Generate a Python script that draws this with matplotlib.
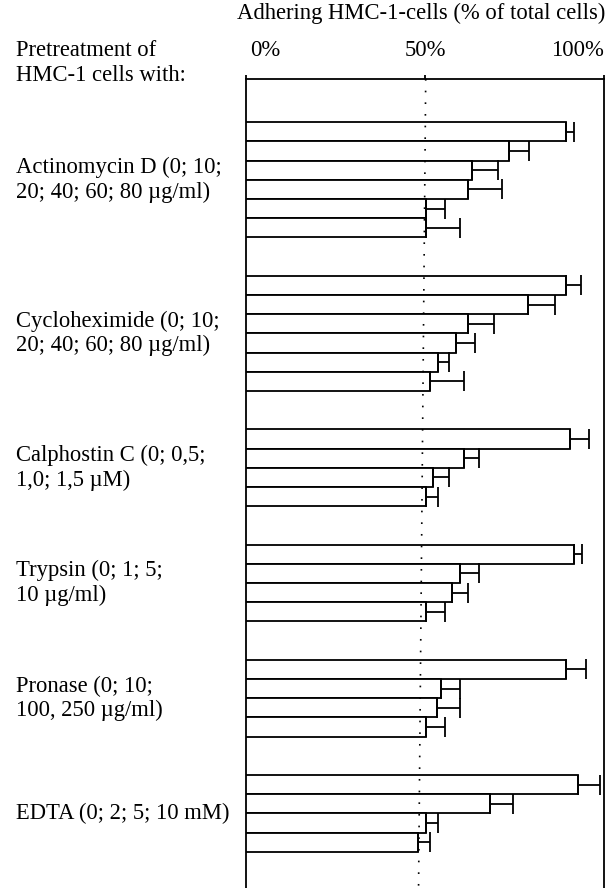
import matplotlib
matplotlib.use("Agg")
import matplotlib.pyplot as plt
import matplotlib.transforms as mtransforms
import numpy as np

plt.rcParams['font.family'] = ['Liberation Serif', 'DejaVu Serif']

groups = [
    "Actinomycin D (0; 10;\n20; 40; 60; 80 µg/ml)",
    "Cycloheximide (0; 10;\n20; 40; 60; 80 µg/ml)",
    "Calphostin C (0; 0,5;\n1,0; 1,5 µM)",
    "Trypsin (0; 1; 5;\n10 µg/ml)",
    "Pronase (0; 10;\n100, 250 µg/ml)",
    "EDTA (0; 2; 5; 10 mM)",
]
means = [
    [89.5, 73.6, 63.0, 61.9, 50.2, 50.2],
    [89.4, 78.8, 62.0, 58.7, 53.5, 51.3],
    [90.6, 60.8, 52.3, 50.2],
    [91.5, 59.8, 57.5, 50.2],
    [89.4, 54.4, 53.4, 50.2],
    [92.7, 68.2, 50.2, 48.1],
]
upper = [
    [91.7, 79.0, 70.5, 71.5, 55.6, 59.9],
    [93.7, 86.3, 69.3, 64.1, 56.7, 60.8],
    [95.9, 65.1, 56.8, 53.5],
    [93.8, 65.2, 62.0, 55.5],
    [94.9, 59.8, 59.8, 55.6],
    [99.0, 74.7, 53.6, 51.5],
]
xticks = [0, 50, 100]
xticklabels = ["0%", "50%", "100%"]
title = "Adhering HMC-1-cells (% of total cells)"
header = "Pretreatment of\nHMC-1 cells with:"
ref_x = [50.2, 48.2]

W, H, DPI = 616, 888, 100
fig = plt.figure(figsize=(W / DPI, H / DPI), dpi=DPI)
ax_left, ax_right, ax_top = 246, 604, 79
ax = fig.add_axes([ax_left / W, 0, (ax_right - ax_left) / W, (H - ax_top) / H])

unit = 19.2
ymax = (H - ax_top) / unit
top_gap = 2.25
gap = 2.0

fs = 16.3
pos = top_gap
for g, (lab, m, u) in enumerate(zip(groups, means, upper)):
    n = len(m)
    ys = pos + 0.5 + np.arange(n)
    m = np.array(m)
    u = np.array(u)
    ax.barh(ys, m, height=1.0, color='white', edgecolor='black', linewidth=1.3, zorder=3)
    ax.errorbar(m, ys, xerr=[np.zeros(n), u - m], fmt='none', ecolor='black',
                elinewidth=1.3, capsize=6.9, capthick=1.3, zorder=4)
    yc = pos + n / 2
    ax.text(16, yc, lab, transform=mtransforms.blended_transform_factory(
        mtransforms.IdentityTransform(), ax.transData),
        ha='left', va='center', fontsize=fs, linespacing=1.2)
    pos += n + gap

ax.plot(ref_x, [0, ymax], color='black', linestyle=(0, (1, 6)), linewidth=1.2, zorder=5)

ax.set_xlim(0, 100)
ax.set_ylim(ymax, 0)
ax.spines['bottom'].set_visible(False)
for s in ['top', 'left', 'right']:
    ax.spines[s].set_linewidth(1.3)
ax.xaxis.tick_top()
ax.set_xticks(xticks)
ax.set_xticklabels([])
ax.tick_params(axis='x', direction='out', length=3, width=1.3)
ax.set_yticks([])

# tick labels with individual alignment
trans = mtransforms.blended_transform_factory(ax.transData, fig.transFigure)
has = ['left', 'center', 'right']
offs = [1.2, 0, 0]
for t, l, ha, o in zip(xticks, xticklabels, has, offs):
    ax.text(t + o, 1 - 50 / H, l, transform=trans, ha=ha, va='center', fontsize=fs)

fig.text(421 / W, 1 - 13 / H, title, ha='center', va='center', fontsize=fs)
fig.text(16 / W, 1 - 63 / H, header, ha='left', va='center', fontsize=fs, linespacing=1.2)

fig.savefig("out.png", dpi=DPI)
